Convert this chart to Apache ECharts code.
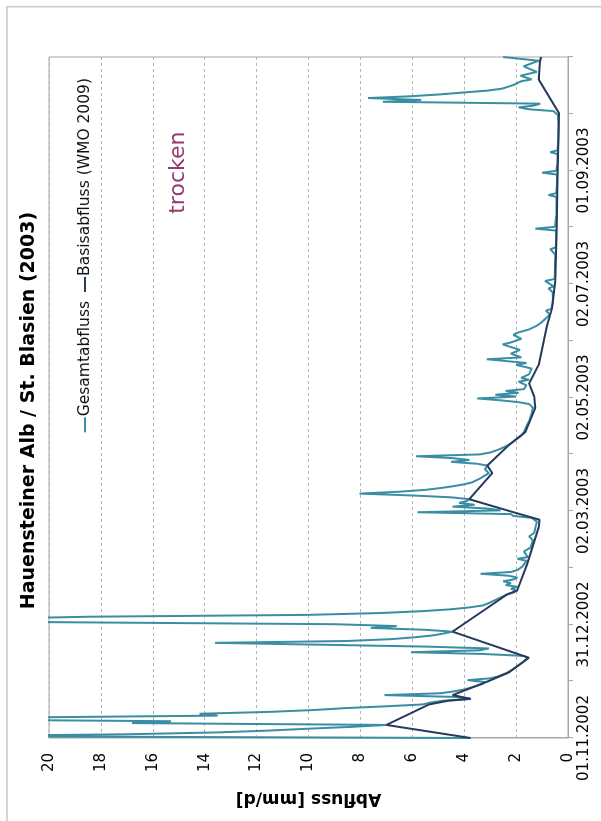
<!DOCTYPE html>
<html>
<head>
<meta charset="utf-8">
<script src="https://cdn.jsdelivr.net/npm/echarts@6/dist/echarts.min.js"></script>
<style>
  html, body { margin: 0; padding: 0; width: 601px; height: 821px; overflow: hidden; background: #fff; }
  /* The chart is laid out landscape and turned a quarter turn to stand on the page */
  #chart {
    position: absolute; left: 0; top: 0;
    width: 821px; height: 601px;
    transform-origin: 0 0;
    transform: translateY(821px) rotate(-90deg);
  }
</style>
</head>
<body>
<div id="chart"></div>
<script>
// Hydrological year 2003: day offsets counted from 01.11.2002
const startDateUTC = Date.UTC(2002, 10, 1);
const yearDays = 365;
const tickStepDays = yearDays / 12;

const chartTitle = 'Hauensteiner Alb / St. Blasien (2003)';
const valueAxisName = 'Abfluss [mm/d]';
const seriesNames = ['Gesamtabfluss', 'Basisabfluss (WMO 2009)'];
const noteText = 'trocken';
const noteAt = [303, 15];   // [day, mm/d]

// Total runoff (mm/d)
const gesamtDays = [
  0, 1, 2, 3, 4, 5, 6, 7, 8, 9, 10, 11, 12, 13, 14, 15, 16, 17, 18, 19,
  20, 21, 22, 23, 24, 25, 26, 27, 28, 29, 30, 31, 32, 33, 35, 37, 40, 43, 44, 45,
  46, 47, 48, 49, 50, 51, 52, 53, 54, 55, 56, 57, 58, 59, 60, 61, 62, 63, 64, 65,
  66, 67, 68, 69, 70, 71, 72, 74, 77, 78, 79, 80, 81, 82, 83, 84, 85, 86, 87, 88,
  89, 90, 91, 92, 93, 95, 96, 97, 100, 102, 106, 108, 110, 113, 116, 118, 119, 120, 121, 122,
  123, 124, 125, 126, 127, 128, 129, 130, 131, 132, 133, 134, 135, 136, 137, 139, 142, 144, 146, 147,
  148, 149, 150, 151, 152, 153, 155, 157, 159, 162, 164, 167, 170, 174, 177, 179, 180, 181, 182, 183,
  184, 185, 186, 187, 189, 191, 192, 193, 195, 198, 200, 201, 203, 204, 206, 208, 210, 211, 212, 214,
  216, 217, 219, 221, 223, 225, 227, 229, 230, 233, 236, 239, 241, 242, 245, 246, 250, 255, 259, 262,
  263, 268, 272, 273, 274, 280, 285, 290, 291, 292, 297, 302, 303, 304, 309, 313, 314, 315, 320, 325,
  330, 334, 335, 336, 337, 338, 339, 340, 341, 342, 343, 344, 345, 346, 347, 348, 350, 352, 353, 355,
  357, 360, 363, 365
];
const gesamtValues = [
  3.8, 24, 17, 13.5, 11.5, 10, 8.3, 7.0, 16.8, 15.3, 25, 21, 13.5, 14.2, 11.5, 9.8, 8.6, 7.0, 5.6, 5.3,
  4.8, 3.75, 4.3, 7.07, 4.9, 4.4, 4.0, 3.75, 3.5, 3.3, 3.2, 3.87, 3.0, 2.7, 2.35, 2.1, 1.8, 1.55, 1.7, 3.2,
  6.05, 3.4, 3.05, 5.5, 9.5, 13.6, 8.5, 6.8, 5.9, 5.2, 4.8, 4.45, 5.5, 7.6, 6.6, 9.0, 19, 28, 22, 18.5,
  10, 7.2, 5.6, 4.5, 3.8, 3.3, 3.1, 2.8, 2.34, 2.1, 2.0, 2.2, 1.95, 2.4, 2.2, 2.5, 2.1, 1.95, 2.3, 3.37,
  2.2, 1.95, 2.0, 1.75, 1.8, 1.6, 1.95, 1.55, 1.7, 1.45, 1.35, 1.5, 1.3, 1.25, 1.2, 1.4, 2.1, 2.2, 5.8, 2.6,
  3.1, 4.45, 3.6, 4.2, 3.9, 3.81, 4.5, 6.0, 8.03, 6.5, 5.5, 4.9, 4.4, 4.0, 3.7, 3.4, 3.05, 3.2, 3.11, 3.5,
  4.5, 3.8, 4.45, 5.86, 3.4, 3.0, 2.6, 2.3, 2.1, 1.8, 1.7, 1.6, 1.5, 1.4, 1.35, 1.5, 1.9, 2.6, 3.5, 2.0,
  2.8, 1.9, 2.4, 1.7, 1.6, 1.9, 1.5, 1.8, 1.5, 1.4, 2.0, 1.6, 3.13, 1.8, 2.2, 1.85, 2.3, 2.52, 2.2, 1.8,
  2.1, 2.0, 1.5, 1.2, 1.0, 0.85, 0.7, 0.85, 0.65, 0.6, 0.58, 0.6, 0.75, 0.55, 0.88, 0.52, 0.5, 0.5, 0.48, 0.68,
  0.47, 0.45, 0.46, 1.26, 0.5, 0.45, 0.44, 0.44, 0.75, 0.45, 0.42, 0.42, 1.0, 0.45, 0.4, 0.4, 0.68, 0.4, 0.38, 0.37,
  0.37, 0.4, 0.45, 0.56, 1.5, 1.9, 1.3, 1.07, 7.13, 5.66, 7.71, 6.0, 4.9, 4.0, 3.1, 2.55, 2.1, 1.8, 1.4, 1.83,
  1.2, 1.71, 1.13, 2.5
];

// Base flow after WMO (2009), mm/d
const basisDays = [
  0, 7, 18, 20, 21, 23, 30, 35, 43, 57, 77, 79, 93, 113, 117, 121, 128, 142, 146, 157,
  164, 177, 183, 190, 200, 221, 230, 245, 275, 300, 335, 353, 363, 365
];
const basisValues = [
  3.75, 7.0, 5.35, 4.6, 3.75, 4.45, 3.15, 2.3, 1.51, 4.45, 2.34, 1.96, 1.58, 1.13, 1.1, 2.1, 3.81, 2.92, 3.11, 2.28,
  1.64, 1.26, 1.3, 1.5, 1.13, 0.81, 0.62, 0.49, 0.43, 0.4, 0.35, 1.13, 1.08, 1.03
];

const pad2 = n => (n < 10 ? '0' : '') + n;
function dayLabel(day) {
  const k = Math.round(day / tickStepDays);
  if (k % 2 !== 0 || k >= 12) return '';
  const d = new Date(startDateUTC + day * 86400000);
  return pad2(d.getUTCDate()) + '.' + pad2(d.getUTCMonth() + 1) + '.' + d.getUTCFullYear();
}

const font = '"DejaVu Sans", Verdana, sans-serif';
const frameGray = '#a6a6a6';
const colGesamt = '#3a8ea4';
const colBasis = '#253a5c';

const chart = echarts.init(document.getElementById('chart'), null, { renderer: 'canvas' });

chart.setOption({
  animation: false,
  backgroundColor: '#ffffff',
  textStyle: { fontFamily: font },
  title: {
    text: chartTitle,
    left: 'center',
    top: 20,
    padding: 0,
    textStyle: { fontFamily: font, fontSize: 19, fontWeight: 'bold', color: '#000' }
  },
  legend: {
    data: seriesNames,
    right: 78,
    top: 77,
    padding: 0,
    icon: 'rect',
    itemWidth: 15,
    itemHeight: 2,
    itemGap: 9,
    textStyle: { fontFamily: font, fontSize: 15.5, color: '#111', padding: [0, 0, 0, -4] }
  },
  grid: {
    left: 83, right: 57, top: 49, bottom: 33,
    show: true, borderColor: frameGray, borderWidth: 1, backgroundColor: 'transparent'
  },
  xAxis: {
    type: 'value',
    min: 0,
    max: yearDays,
    interval: tickStepDays,
    axisLine: { show: true, lineStyle: { color: frameGray, width: 1 } },
    axisTick: { show: true, length: 5, lineStyle: { color: frameGray } },
    splitLine: { show: false },
    axisLabel: { margin: 9, fontFamily: font, fontSize: 15, color: '#000', formatter: dayLabel }
  },
  yAxis: {
    type: 'value',
    min: 0,
    max: 20,
    interval: 2,
    name: valueAxisName,
    nameLocation: 'middle',
    nameGap: 52,
    nameTextStyle: { fontFamily: font, fontSize: 17, fontWeight: 'bold', color: '#000' },
    axisLine: { show: true, lineStyle: { color: frameGray, width: 1 } },
    axisTick: { show: false },
    splitLine: { show: true, lineStyle: { color: '#b4b4b4', width: 1, type: [3, 3] } },
    axisLabel: { margin: 15, fontFamily: font, fontSize: 15, color: '#000' }
  },
  series: [
    {
      name: seriesNames[0],
      type: 'line',
      data: gesamtDays.map((d, i) => [d, gesamtValues[i]]),
      symbol: 'none',
      showSymbol: false,
      clip: true,
      lineStyle: { color: colGesamt, width: 2 },
      itemStyle: { color: colGesamt },
      z: 2
    },
    {
      name: seriesNames[1],
      type: 'line',
      data: basisDays.map((d, i) => [d, basisValues[i]]),
      symbol: 'none',
      showSymbol: false,
      clip: true,
      lineStyle: { color: colBasis, width: 2 },
      itemStyle: { color: colBasis },
      z: 3
    }
  ]
});

// Outer frame of the sheet and the "trocken" note placed in data coordinates
const notePx = chart.convertToPixel({ gridIndex: 0 }, noteAt);
chart.setOption({
  graphic: [
    {
      type: 'rect',
      silent: true,
      z: -10,
      shape: { x: -10, y: 7, width: 824.3, height: 640 },
      style: { fill: 'none', stroke: '#c8c8c8', lineWidth: 1.5 }
    },
    {
      type: 'text',
      silent: true,
      x: notePx[0],
      y: notePx[1],
      style: {
        text: noteText,
        fill: '#973a6d',
        font: '22px ' + font,
        align: 'center',
        verticalAlign: 'middle'
      }
    }
  ]
});
</script>
</body>
</html>
